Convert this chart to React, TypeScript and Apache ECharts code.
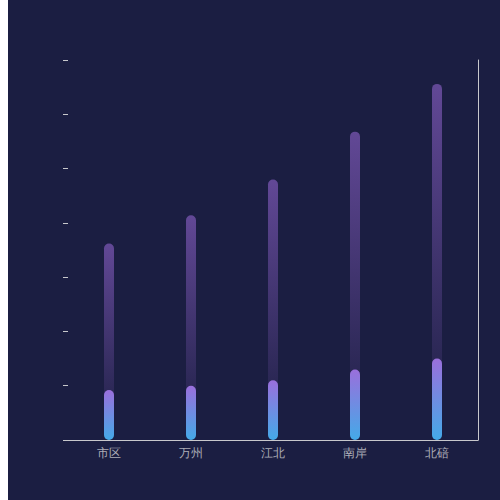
import React, { useEffect, useRef } from "react";
import * as echarts from "echarts";

const categories = ["市区", "万州", "江北", "南岸", "北碚"];
const totalValues = [181, 207, 240, 284, 328];
const currentValues = [46, 50, 55, 65, 75];

export default function App() {
  const ref = useRef<HTMLDivElement>(null);
  useEffect(() => {
    if (!ref.current) return;
    const chart = echarts.init(ref.current, undefined, { renderer: "svg" });
    const axisColor = "#c8c8cc";
    chart.setOption({
      animation: false,
      backgroundColor: "#1b1e42",
      grid: { left: 60, right: 22, top: 60, bottom: 60 },
      xAxis: {
        type: "category",
        data: categories,
        axisLine: { show: true, lineStyle: { color: axisColor, width: 1 } },
        axisTick: { show: false },
        axisLabel: { color: "#aeaeb8", fontSize: 12, margin: 7 },
      },
      yAxis: [
        {
          type: "value",
          min: 0,
          max: 350,
          interval: 50,
          axisLine: { show: false },
          axisTick: { show: true, length: 5, lineStyle: { color: axisColor } },
          axisLabel: { show: false },
          splitLine: { show: false },
        },
        {
          type: "value",
          position: "right",
          min: 0,
          max: 350,
          interval: 50,
          axisLine: { show: true, lineStyle: { color: axisColor } },
          axisTick: { show: false },
          axisLabel: { show: false },
          splitLine: { show: false },
        },
      ],
      series: [
        {
          type: "bar",
          data: totalValues,
          barWidth: 10,
          barGap: "-100%",
          itemStyle: {
            borderRadius: 5,
            color: new echarts.graphic.LinearGradient(0, 0, 0, 1, [
              { offset: 0, color: "rgba(98,72,150,1)" },
              { offset: 1, color: "rgba(98,72,150,0)" },
            ]),
          },
        },
        {
          type: "bar",
          data: currentValues,
          barWidth: 10,
          barGap: "-100%",
          itemStyle: {
            borderRadius: 5,
            color: new echarts.graphic.LinearGradient(0, 0, 0, 1, [
              { offset: 0, color: "#9a6fdc" },
              { offset: 1, color: "#44aae8" },
            ]),
          },
        },
      ],
    });
    return () => chart.dispose();
  }, []);
  return (
    <div
      ref={ref}
      style={{ position: "absolute", left: 8, top: 0, width: 492, height: 500 }}
    />
  );
}
